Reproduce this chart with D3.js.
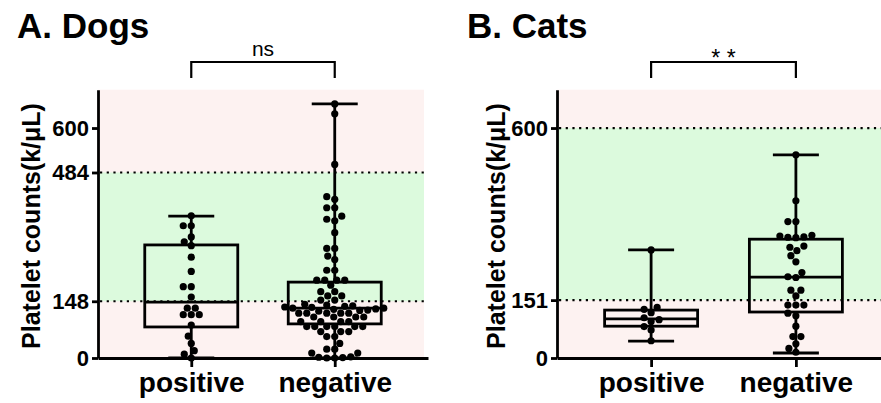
<!DOCTYPE html>
<html>
<head>
<meta charset="utf-8">
<script src="https://cdn.jsdelivr.net/npm/d3@7"></script>
<style>
  body { margin: 0; background: #fff; }
  svg { display: block; font-family: "Liberation Sans", Arial, sans-serif; }
</style>
</head>
<body>
<svg width="881" height="403"></svg>
<script>
const width = 881, height = 403;
const svg = d3.select("svg");

// groups on the x axis
const groups = ["positive", "negative"];

// individual platelet counts (k/uL)
const dogsPositive = [371, 345, 345, 316, 303, 293, 263, 226, 186, 186, 159, 130, 130, 113, 113, 113, 86, 57, 38, 19, 10, 0];
const dogsNegative = [663, 637, 505, 421, 414, 392, 392, 370, 362, 358, 327, 286, 286, 266, 257, 229, 229,
    203, 203, 203, 203, 190, 173, 173, 162, 162, 151, 151, 140, 138, 136, 135, 133, 132, 130, 130, 128, 127,
    125, 124, 122, 117, 117, 117, 117, 117, 107, 107, 107, 107, 95, 95, 95, 95, 82, 82, 82, 82, 82, 82,
    69, 69, 69, 56, 56, 38, 23, 23, 13, 13, 3, 2, 1, 0, 0];
const catsPositive = [282, 132, 127, 118, 105, 100, 95, 82, 73, 45];
const catsNegative = [530, 410, 356, 356, 320, 318, 316, 315, 314, 292, 289, 280, 267, 251, 223, 212, 210,
    177, 177, 162, 138, 138, 138, 117, 110, 83, 56, 56, 37, 25, 15];

// box plot stats: min, q1, median, q3, max
const dogsBox = [[0, 81, 146, 295, 370], [0, 89, 130, 198, 663]];
const catsBox = [[44, 83, 102, 125, 282], [13, 120, 211, 310, 530]];

// y ticks and reference range
const dogsTicks = [0, 148, 484, 600];
const catsTicks = [0, 151, 600];
const dogsRange = [148, 484];
const catsRange = [151, 600];

const titles = ["A. Dogs", "B. Cats"];
const signif = ["ns", "* *"];

const panels = [
    { title: titles[0], sig: signif[0], points: [dogsPositive, dogsNegative], box: dogsBox,
      ticks: dogsTicks, normal: dogsRange, axisX: 98, axisEnd: 428, bgEnd: 424, labelX: 40, titleX: 17 },
    { title: titles[1], sig: signif[1], points: [catsPositive, catsNegative], box: catsBox,
      ticks: catsTicks, normal: catsRange, axisX: 557, axisEnd: 890, bgEnd: 881, labelX: 505, titleX: 467 }
];

const pink = "#fdf2f1", green = "#dcfadd";
const dotR = 3.6;

// simple beeswarm: shift each dot sideways until it no longer overlaps
function swarm(values, cx, y) {
    const placed = [];
    const sorted = values.slice().sort((a, b) => a - b);
    const gap = dotR * 2 + 0.4;
    sorted.forEach(v => {
        const py = y(v);
        let off = 0;
        for (let k = 0; k < 200; k++) {
            off = (k % 2 === 0 ? 1 : -1) * Math.ceil(k / 2);
            const px = cx + off;
            const hit = placed.some(p => (p.x - px) ** 2 + (p.y - py) ** 2 < gap * gap);
            if (!hit) break;
        }
        placed.push({ v: v, x: cx + off, y: py });
    });
    return placed;
}

function drawPanel(p) {
    const g = svg.append("g");

    const y = d3.scaleLinear().domain([0, 700]).range([358, 89.7]);
    const x = d3.scalePoint().domain(groups).range([p.axisX, p.axisEnd]).padding(0.65);

    // background bands
    g.append("rect")
        .attr("x", p.axisX).attr("y", y(700))
        .attr("width", p.bgEnd - p.axisX).attr("height", y(0) - y(700))
        .attr("fill", pink);
    g.append("rect")
        .attr("x", p.axisX).attr("y", y(p.normal[1]))
        .attr("width", p.bgEnd - p.axisX).attr("height", y(p.normal[0]) - y(p.normal[1]))
        .attr("fill", green);

    // dotted reference lines
    g.selectAll(".ref")
        .data(p.normal)
        .enter().append("line")
        .attr("x1", p.axisX + 2).attr("x2", p.bgEnd)
        .attr("y1", d => y(d)).attr("y2", d => y(d))
        .attr("stroke", "#000")
        .attr("stroke-width", 2.2)
        .attr("stroke-dasharray", "2.2,4.5");

    // boxes and whiskers
    const halfBox = 46.5, halfCap = 23;
    groups.forEach((name, i) => {
        const [mn, q1, med, q3, mx] = p.box[i];
        const cx = x(name);
        const bg = g.append("g")
            .attr("fill", "none").attr("stroke", "#000").attr("stroke-width", 2.8);
        bg.append("line").attr("x1", cx).attr("x2", cx).attr("y1", y(mx)).attr("y2", y(q3));
        bg.append("line").attr("x1", cx).attr("x2", cx).attr("y1", y(q1)).attr("y2", y(mn));
        bg.append("line").attr("x1", cx - halfCap).attr("x2", cx + halfCap).attr("y1", y(mx)).attr("y2", y(mx));
        bg.append("line").attr("x1", cx - halfCap).attr("x2", cx + halfCap).attr("y1", y(mn)).attr("y2", y(mn));
        bg.append("rect")
            .attr("x", cx - halfBox).attr("y", y(q3))
            .attr("width", halfBox * 2).attr("height", y(q1) - y(q3));
        bg.append("line").attr("x1", cx - halfBox).attr("x2", cx + halfBox).attr("y1", y(med)).attr("y2", y(med));

        // dots
        g.append("g").selectAll("circle")
            .data(swarm(p.points[i], cx, y))
            .enter().append("circle")
            .attr("cx", d => d.x).attr("cy", d => d.y)
            .attr("r", dotR)
            .attr("fill", "#000");
    });

    // y axis
    const yAxis = g.append("g")
        .attr("transform", `translate(${p.axisX},0)`)
        .call(d3.axisLeft(y).tickValues(p.ticks).tickSize(6).tickSizeOuter(0).tickPadding(3));
    yAxis.select(".domain").attr("stroke-width", 2.8);
    yAxis.selectAll(".tick line").attr("stroke-width", 2.8);
    yAxis.selectAll(".tick text")
        .style("font-size", "22px").style("font-weight", "bold").attr("fill", "#000");

    // x axis
    const xAxis = g.append("g")
        .attr("transform", `translate(0,${y(0)})`)
        .call(d3.axisBottom(x).tickSize(9).tickSizeOuter(0).tickPadding(5));
    xAxis.select(".domain").attr("stroke-width", 2.8);
    xAxis.selectAll(".tick line").attr("stroke-width", 2.8);
    xAxis.selectAll(".tick text")
        .style("font-size", "28px").style("font-weight", "bold").attr("fill", "#000");

    // y label
    g.append("text")
        .attr("transform", `translate(${p.labelX},226) rotate(-90)`)
        .attr("text-anchor", "middle")
        .style("font-size", "25px").style("font-weight", "bold")
        .text("Platelet counts(k/μL)");

    // panel title
    g.append("text")
        .attr("x", p.titleX).attr("y", 38)
        .style("font-size", "35px").style("font-weight", "bold")
        .text(p.title);

    // significance bracket
    const x1 = x(groups[0]), x2 = x(groups[1]);
    g.append("path")
        .attr("d", `M${x1},78V62H${x2}V78`)
        .attr("fill", "none").attr("stroke", "#000").attr("stroke-width", 2.2);
    g.append("text")
        .attr("x", (x1 + x2) / 2)
        .attr("y", p.sig === "ns" ? 56 : 66)
        .attr("text-anchor", "middle")
        .style("font-size", p.sig === "ns" ? "21px" : "23px")
        .text(p.sig);
}

panels.forEach(drawPanel);
</script>
</body>
</html>
